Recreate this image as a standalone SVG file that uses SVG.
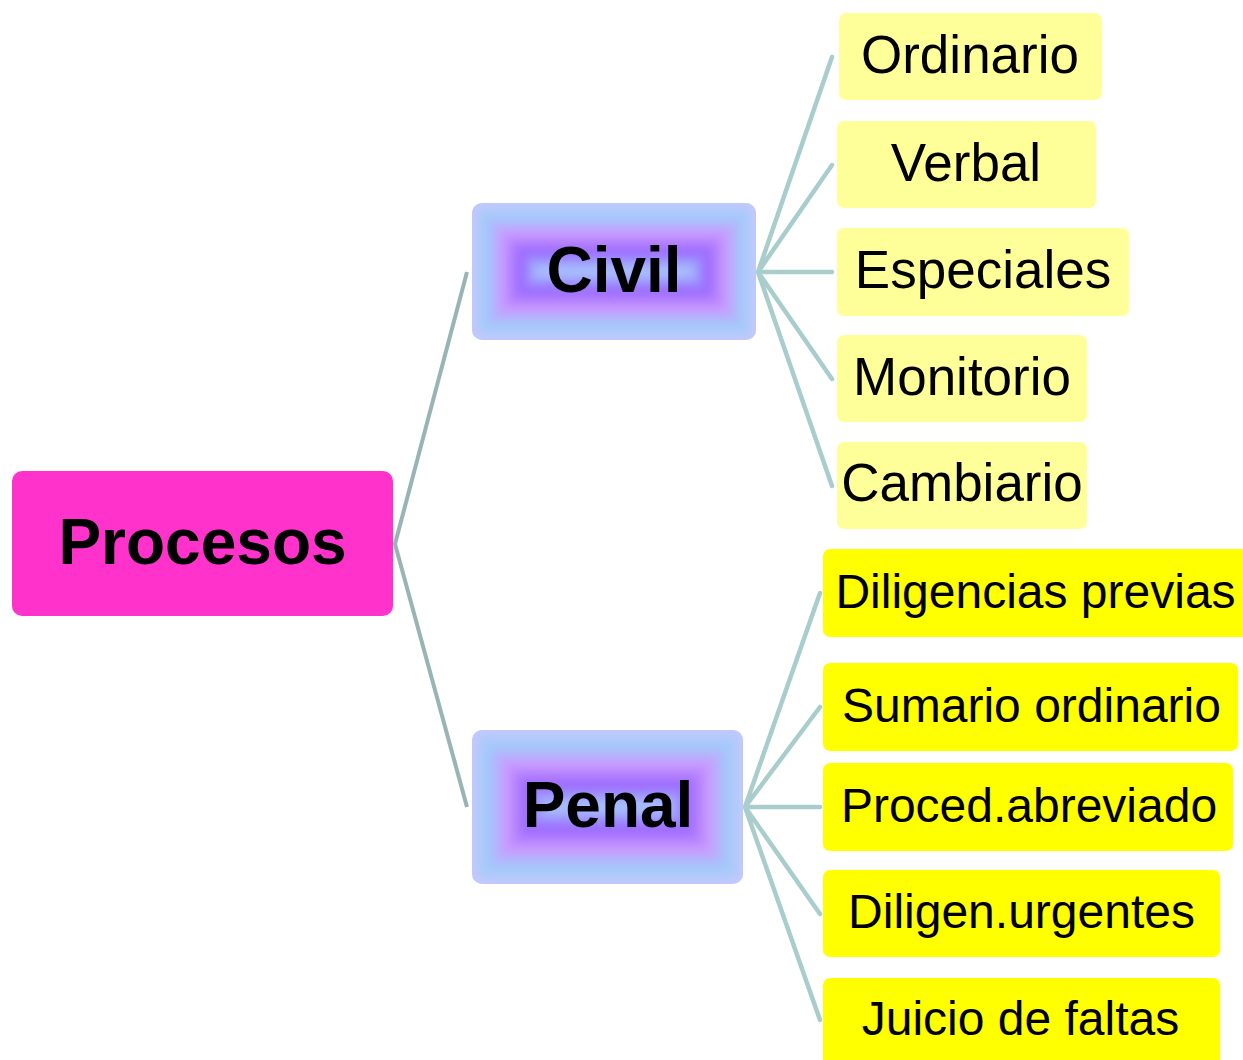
<svg xmlns="http://www.w3.org/2000/svg" width="1243" height="1060" viewBox="0 0 1243 1060">
  <style>
    .t { font-family: "Liberation Sans", Arial, sans-serif; fill: #000; text-anchor: middle; }
    .big { font-size: 64px; font-weight: bold; }
    .civ { font-size: 53px; }
    .pen { font-size: 48px; }
    .lc { fill: #FFFF99; }
    .lp { fill: #FFFF00; }
    .root-line { fill: none; stroke: #98B4B4; stroke-width: 4; stroke-linejoin: round; }
    .child-line { fill: none; stroke: #A9CDCD; stroke-width: 4.5; stroke-linecap: round; }
  </style>
  <defs>
    <linearGradient id="gT" x1="0" y1="0" x2="0" y2="1">
      <stop offset="0" stop-color="#C6C8FC"/>
      <stop offset="0.2" stop-color="#9ECCFB"/>
      <stop offset="0.45" stop-color="#CC99FF"/>
      <stop offset="0.72" stop-color="#9966FF"/>
      <stop offset="1" stop-color="#A8CCFF"/>
    </linearGradient>
    <linearGradient id="gB" x1="0" y1="1" x2="0" y2="0">
      <stop offset="0" stop-color="#C6C8FC"/>
      <stop offset="0.2" stop-color="#9ECCFB"/>
      <stop offset="0.45" stop-color="#CC99FF"/>
      <stop offset="0.72" stop-color="#9966FF"/>
      <stop offset="1" stop-color="#A8CCFF"/>
    </linearGradient>
    <linearGradient id="gL" x1="0" y1="0" x2="1" y2="0">
      <stop offset="0" stop-color="#C6C8FC"/>
      <stop offset="0.2" stop-color="#9ECCFB"/>
      <stop offset="0.45" stop-color="#CC99FF"/>
      <stop offset="0.72" stop-color="#9966FF"/>
      <stop offset="1" stop-color="#A8CCFF"/>
    </linearGradient>
    <linearGradient id="gR" x1="1" y1="0" x2="0" y2="0">
      <stop offset="0" stop-color="#C6C8FC"/>
      <stop offset="0.2" stop-color="#9ECCFB"/>
      <stop offset="0.45" stop-color="#CC99FF"/>
      <stop offset="0.72" stop-color="#9966FF"/>
      <stop offset="1" stop-color="#A8CCFF"/>
    </linearGradient>
    <filter id="soft" x="-5%" y="-5%" width="110%" height="110%">
      <feGaussianBlur stdDeviation="5"/>
    </filter>
    <clipPath id="cCivil"><rect x="472" y="203" width="284" height="137" rx="10"/></clipPath>
    <clipPath id="cPenal"><rect x="472" y="730" width="271" height="154" rx="10"/></clipPath>
  </defs>

  <g id="connectors">
    <path class="root-line" d="M467,272 L395,544 L467,807"/>
    <path class="child-line" d="M758,272 L832,57 M758,272 L832,165 M758,272 L832,272 M758,272 L832,379 M758,272 L832,486"/>
    <path class="child-line" d="M745,807 L820,593 M745,807 L820,707 M745,807 L820,807 M745,807 L820,914 M745,807 L820,1020"/>
  </g>

  <g id="node-procesos">
    <rect x="12" y="471" width="381" height="145" rx="10" fill="#FF33CC"/>
    <text class="t big" x="202.5" y="564">Procesos</text>
  </g>

  <g id="node-civil">
    <g clip-path="url(#cCivil)">
      <rect x="472" y="203" width="284" height="137" fill="#C6C8FC"/>
      <g filter="url(#soft)">
        <rect x="480" y="211" width="268" height="121" fill="#CC99FF"/>
        <polygon points="472,203 756,203 687.5,271.5 540.5,271.5" fill="url(#gT)"/>
        <polygon points="472,340 756,340 687.5,271.5 540.5,271.5" fill="url(#gB)"/>
        <polygon points="472,203 472,340 540.5,271.5" fill="url(#gL)"/>
        <polygon points="756,203 756,340 687.5,271.5" fill="url(#gR)"/>
      </g>
    </g>
    <text class="t big" x="614" y="292">Civil</text>
  </g>

  <g id="node-penal">
    <g clip-path="url(#cPenal)">
      <rect x="472" y="730" width="271" height="154" fill="#C6C8FC"/>
      <g filter="url(#soft)">
        <rect x="480" y="738" width="255" height="138" fill="#CC99FF"/>
        <polygon points="472,730 743,730 666,807 549,807" fill="url(#gT)"/>
        <polygon points="472,884 743,884 666,807 549,807" fill="url(#gB)"/>
        <polygon points="472,730 472,884 549,807" fill="url(#gL)"/>
        <polygon points="743,730 743,884 666,807" fill="url(#gR)"/>
      </g>
    </g>
    <text class="t big" x="608" y="827">Penal</text>
  </g>

  <g id="node-ordinario">
    <rect class="lc" x="839" y="13" width="263" height="87" rx="7"/>
    <text class="t civ" x="970" y="73">Ordinario</text>
  </g>
  <g id="node-verbal">
    <rect class="lc" x="837" y="121" width="259" height="87" rx="7"/>
    <text class="t civ" x="966" y="181">Verbal</text>
  </g>
  <g id="node-especiales">
    <rect class="lc" x="837" y="228" width="292" height="88" rx="7"/>
    <text class="t civ" x="983" y="288">Especiales</text>
  </g>
  <g id="node-monitorio">
    <rect class="lc" x="837" y="335" width="250" height="87" rx="7"/>
    <text class="t civ" x="962" y="395">Monitorio</text>
  </g>
  <g id="node-cambiario">
    <rect class="lc" x="837" y="442" width="250" height="87" rx="7"/>
    <text class="t civ" x="962" y="501">Cambiario</text>
  </g>

  <g id="node-diligencias-previas">
    <rect class="lp" x="823" y="549" width="428" height="88" rx="7"/>
    <text class="t pen" x="1035.5" y="608">Diligencias previas</text>
  </g>
  <g id="node-sumario-ordinario">
    <rect class="lp" x="823" y="663" width="415" height="88" rx="7"/>
    <text class="t pen" x="1031.5" y="722">Sumario ordinario</text>
  </g>
  <g id="node-proced-abreviado">
    <rect class="lp" x="823" y="763" width="410" height="88" rx="7"/>
    <text class="t pen" x="1029" y="822">Proced.abreviado</text>
  </g>
  <g id="node-diligen-urgentes">
    <rect class="lp" x="823" y="870" width="397" height="87" rx="7"/>
    <text class="t pen" x="1021.5" y="928">Diligen.urgentes</text>
  </g>
  <g id="node-juicio-de-faltas">
    <rect class="lp" x="823" y="978" width="397" height="92" rx="7"/>
    <text class="t pen" x="1020.5" y="1035">Juicio de faltas</text>
  </g>
</svg>
